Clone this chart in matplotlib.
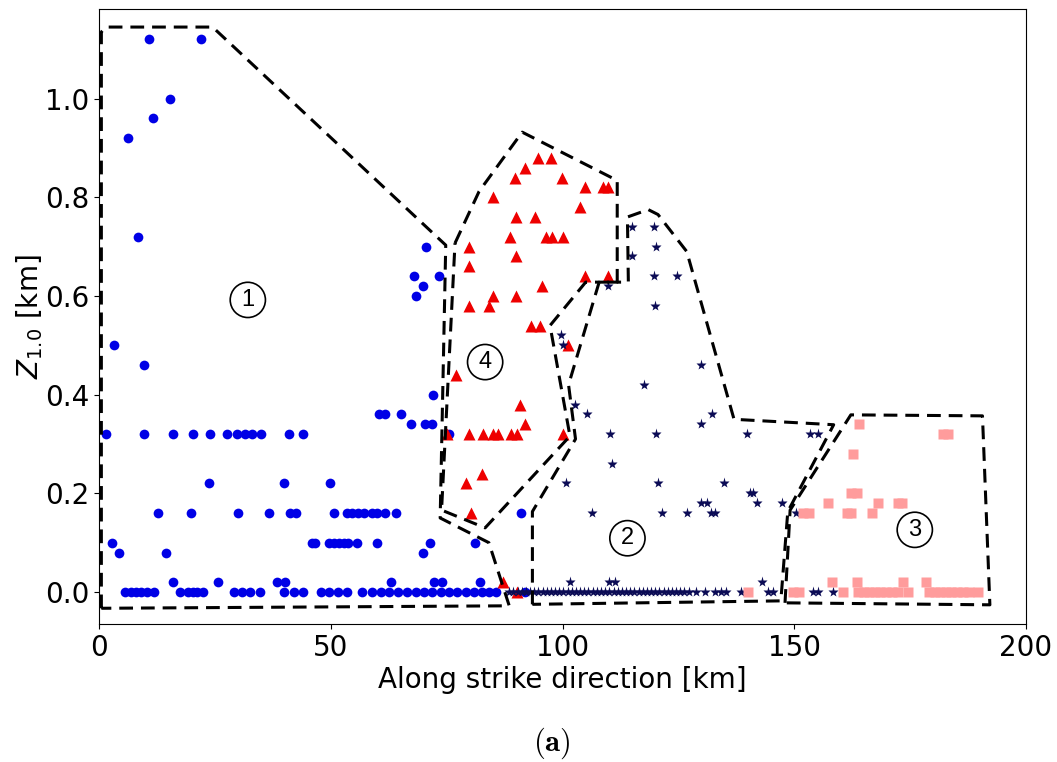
import matplotlib
matplotlib.use('Agg')
import matplotlib.pyplot as plt

plt.rcParams['mathtext.fontset'] = 'dejavusans'

# region 1 (blue circles): along-strike distance [km] and Z1.0 [km]
region1_x = [10.8, 21.9, 15.4, 11.7, 6.2, 8.3, 70.5, 68.0, 73.3, 69.8, 68.3, 3.2, 9.7, 72.0,
             60.4, 61.6, 65.1, 67.2, 70.3, 71.8,
             1.4, 9.7, 16.0, 20.3, 23.9, 27.5, 29.8, 31.4, 33.0, 35.0, 41.0, 44.1, 75.4,
             23.7, 39.8, 49.9,
             12.7, 19.8, 30.0, 36.7, 41.2, 42.4, 50.7, 53.4, 54.6, 55.9, 57.1, 58.8, 60.0, 61.7, 64.0, 91.0,
             2.7, 46.0, 46.7, 49.6, 50.7, 51.8, 52.9, 53.7, 55.7, 59.9, 71.3, 81.1,
             4.2, 14.4, 69.9,
             16.0, 25.6, 38.3, 40.1, 62.9, 72.3, 74.1, 82.2,
             5.6, 6.8, 8.0, 9.1, 10.4, 11.9, 17.5, 19.1, 20.2, 21.2, 22.5, 29.1, 30.8, 32.5, 34.7,
             39.8, 42.1, 44.1, 47.9, 49.7, 51.6, 53.4, 56.7, 58.9, 60.8, 62.6, 64.5, 66.4, 68.3,
             70.1, 71.9, 73.7, 75.5, 77.3, 79.1, 80.9, 82.7, 84.1, 85.6, 92.0]
region1_z = [1.12, 1.12, 1.00, 0.96, 0.92, 0.72, 0.70, 0.64, 0.64, 0.62, 0.60, 0.50, 0.46, 0.40,
             0.36, 0.36, 0.36, 0.34, 0.34, 0.34,
             0.32, 0.32, 0.32, 0.32, 0.32, 0.32, 0.32, 0.32, 0.32, 0.32, 0.32, 0.32, 0.32,
             0.22, 0.22, 0.22,
             0.16, 0.16, 0.16, 0.16, 0.16, 0.16, 0.16, 0.16, 0.16, 0.16, 0.16, 0.16, 0.16, 0.16, 0.16, 0.16,
             0.10, 0.10, 0.10, 0.10, 0.10, 0.10, 0.10, 0.10, 0.10, 0.10, 0.10, 0.10,
             0.08, 0.08, 0.08,
             0.02, 0.02, 0.02, 0.02, 0.02, 0.02, 0.02, 0.02,
             0.0, 0.0, 0.0, 0.0, 0.0, 0.0, 0.0, 0.0, 0.0, 0.0, 0.0, 0.0, 0.0, 0.0, 0.0,
             0.0, 0.0, 0.0, 0.0, 0.0, 0.0, 0.0, 0.0, 0.0, 0.0, 0.0, 0.0, 0.0, 0.0,
             0.0, 0.0, 0.0, 0.0, 0.0, 0.0, 0.0, 0.0, 0.0, 0.0, 0.0]

# region 2 (stars)
region2_x = [115.0, 119.8, 120.2, 115.0, 119.8, 124.8, 109.9, 119.9, 99.6, 100.0, 129.9, 117.6,
             102.6, 105.2, 132.3, 129.9,
             110.2, 120.1, 139.9, 153.3, 155.2,
             110.7, 100.8, 120.7, 134.9, 140.5, 141.2,
             129.9, 131.2, 142.0, 147.4,
             106.4, 121.4, 126.8, 132.0, 132.8, 150.3,
             101.7, 110.0, 111.4, 143.1,
             88.5, 89.4, 90.3, 91.2, 92.1, 93.0, 93.9, 94.8, 95.7, 96.6, 97.5, 98.4, 99.3, 100.2,
             101.1, 102.0, 102.9, 103.8, 104.7, 105.6, 106.5, 107.4, 108.3, 109.2, 110.1, 111.0,
             111.9, 112.8, 113.7, 114.6, 115.5, 116.4, 117.3, 118.2, 119.1, 120.0, 120.9, 121.8,
             122.7, 123.6, 124.5, 125.4, 126.3, 127.2,
             128.9, 130.7, 133.0, 134.1, 135.2, 138.6, 144.3, 145.4, 154.1, 155.2, 158.4]
region2_z = [0.74, 0.74, 0.70, 0.68, 0.64, 0.64, 0.62, 0.58, 0.52, 0.50, 0.46, 0.42,
             0.38, 0.36, 0.36, 0.34,
             0.32, 0.32, 0.32, 0.32, 0.32,
             0.26, 0.22, 0.22, 0.22, 0.20, 0.20,
             0.18, 0.18, 0.18, 0.18,
             0.16, 0.16, 0.16, 0.16, 0.16, 0.16,
             0.02, 0.02, 0.02, 0.02,
             0.0, 0.0, 0.0, 0.0, 0.0, 0.0, 0.0, 0.0, 0.0, 0.0, 0.0, 0.0, 0.0, 0.0,
             0.0, 0.0, 0.0, 0.0, 0.0, 0.0, 0.0, 0.0, 0.0, 0.0, 0.0, 0.0,
             0.0, 0.0, 0.0, 0.0, 0.0, 0.0, 0.0, 0.0, 0.0, 0.0, 0.0, 0.0,
             0.0, 0.0, 0.0, 0.0, 0.0, 0.0,
             0.0, 0.0, 0.0, 0.0, 0.0, 0.0, 0.0, 0.0, 0.0, 0.0, 0.0]

# region 3 (squares)
region3_x = [164.0, 182.0, 183.2, 162.7, 162.3, 163.6,
             157.2, 168.1, 172.4, 173.2,
             151.8, 153.2, 161.3, 162.3, 166.7,
             158.2, 163.6, 173.5, 178.4,
             140.1, 149.8, 151.1, 160.6, 163.8, 165.0, 166.2, 167.4, 168.6, 169.8, 171.0, 172.3,
             174.6, 179.1, 180.3, 181.5, 182.7, 183.9, 185.1, 186.4, 187.6, 189.6]
region3_z = [0.34, 0.32, 0.32, 0.28, 0.20, 0.20,
             0.18, 0.18, 0.18, 0.18,
             0.16, 0.16, 0.16, 0.16, 0.16,
             0.02, 0.02, 0.02, 0.02,
             0.0, 0.0, 0.0, 0.0, 0.0, 0.0, 0.0, 0.0, 0.0, 0.0, 0.0, 0.0,
             0.0, 0.0, 0.0, 0.0, 0.0, 0.0, 0.0, 0.0, 0.0, 0.0]

# region 4 (triangles)
region4_x = [94.8, 97.6, 91.8, 89.8, 99.8, 104.9, 108.7, 109.9, 84.9, 103.8, 89.9, 94.1,
             88.7, 96.4, 97.8, 100.0, 79.8, 89.9, 79.8, 104.9, 109.9, 95.5, 84.9, 89.9,
             79.8, 84.1, 93.3, 95.1, 101.2, 77.0, 90.8, 91.8,
             75.0, 79.8, 82.9, 84.9, 86.1, 88.8, 90.2, 100.1,
             82.6, 79.1, 80.3, 87.2, 90.2]
region4_z = [0.88, 0.88, 0.86, 0.84, 0.84, 0.82, 0.82, 0.82, 0.80, 0.78, 0.76, 0.76,
             0.72, 0.72, 0.72, 0.72, 0.70, 0.68, 0.66, 0.64, 0.64, 0.62, 0.60, 0.60,
             0.58, 0.58, 0.54, 0.54, 0.50, 0.44, 0.38, 0.34,
             0.32, 0.32, 0.32, 0.32, 0.32, 0.32, 0.32, 0.32,
             0.24, 0.22, 0.16, 0.02, 0.0]

# outlines of the four regions
outline1_x = [0.5, 0.5, 1.5, 24.5, 74.8, 73.6, 84.1, 88.5, 0.5]
outline1_z = [-0.033, 1.135, 1.145, 1.145, 0.703, 0.15, 0.10, -0.028, -0.033]
outline2_x = [93.5, 93.5, 102.8, 101.3, 107.9, 114.2, 114.0, 118.5, 120.6, 126.8, 137.0, 158.5, 148.6, 147.1, 93.5]
outline2_z = [-0.025, 0.163, 0.31, 0.42, 0.628, 0.628, 0.76, 0.775, 0.765, 0.69, 0.35, 0.339, 0.163, -0.018, -0.025]
outline3_x = [148.0, 149.1, 162.2, 190.6, 192.2, 148.0]
outline3_z = [-0.022, 0.166, 0.359, 0.357, -0.026, -0.022]
outline4_x = [76.8, 82.0, 91.3, 111.8, 111.8, 105.0, 97.3, 101.6, 83.3, 73.9, 76.8]
outline4_z = [0.707, 0.812, 0.932, 0.834, 0.628, 0.628, 0.54, 0.316, 0.13, 0.166, 0.707]

labels = ['1', '2', '3', '4']
label_x = [32.1, 114.0, 176.0, 83.3]
label_z = [0.592, 0.109, 0.126, 0.466]

fig = plt.figure(figsize=(10.57, 7.62), dpi=100)
ax = fig.add_axes([0.0937, 0.1807, 0.877, 0.8071])

ax.plot(region1_x, region1_z, 'o', color='#0000e6', ms=7, mec='none')
ax.plot(region4_x, region4_z, '^', color='#ee0000', ms=8, mec='none')
ax.plot(region2_x, region2_z, '*', color='#0b0b55', ms=8, mec='none')
ax.plot(region3_x, region3_z, 's', color='#ff9c9c', ms=7, mec='none')

for ox, oz in [(outline1_x, outline1_z), (outline4_x, outline4_z),
               (outline2_x, outline2_z), (outline3_x, outline3_z)]:
    ax.plot(ox, oz, color='black', lw=2.2, dashes=(4.5, 2.6))

for t, lx, lz in zip(labels, label_x, label_z):
    ax.text(lx, lz, t, ha='center', va='center', fontsize=17, family='Liberation Sans',
            bbox=dict(boxstyle='circle,pad=0.28', fc='white', ec='black', lw=1.2))

ax.set_xlim(0, 200)
ax.set_ylim(-0.0655, 1.181)
ax.set_xticks([0, 50, 100, 150, 200])
ax.set_yticks([0.0, 0.2, 0.4, 0.6, 0.8, 1.0])
ax.tick_params(labelsize=20)
ax.set_xlabel('Along strike direction [km]', fontsize=20, labelpad=3)
ax.set_ylabel(r'$Z_{1.0}$ [km]', fontsize=20, labelpad=0)

fig.text(0.522, 0.024, r'$\mathbf{(a)}$', ha='center', va='center', fontsize=22,
         math_fontfamily='cm')

fig.savefig('out.png', dpi=100)
